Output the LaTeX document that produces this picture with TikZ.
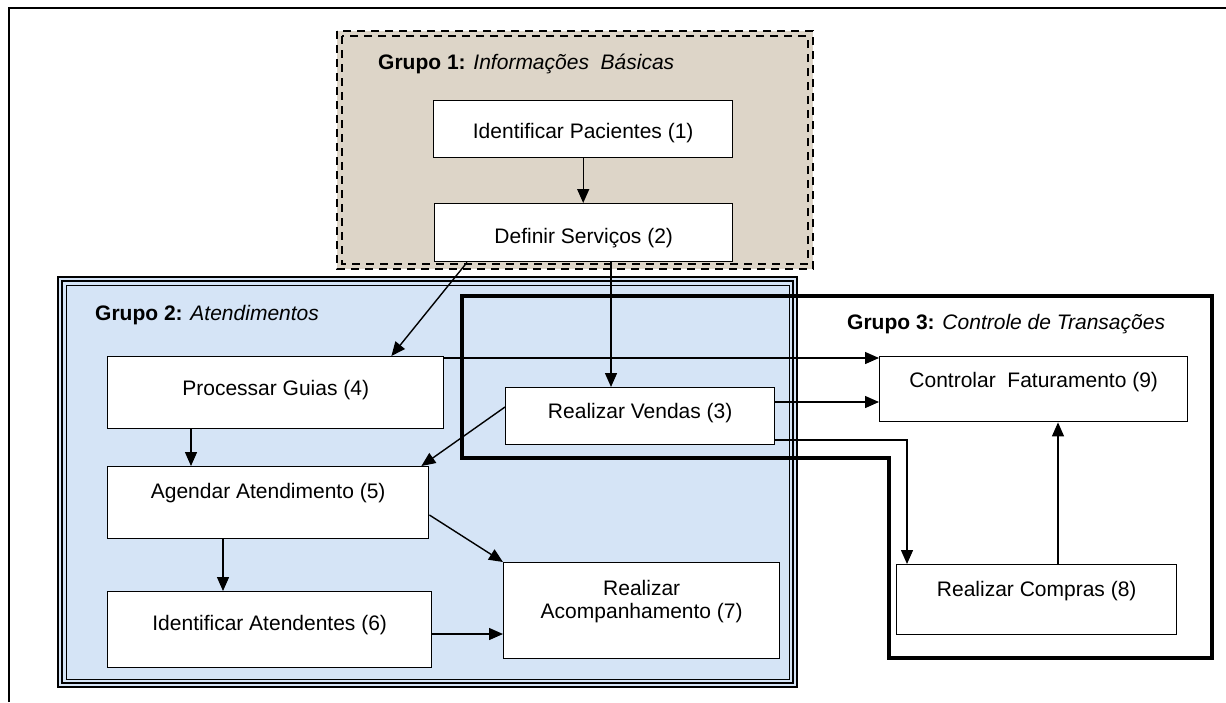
\documentclass[tikz,border=0pt]{standalone}
\usepackage{fontspec}
\setmainfont{Liberation Sans}
\usetikzlibrary{arrows.meta}
\definecolor{sandfill}{RGB}{221,213,200}
\definecolor{skyfill}{RGB}{213,228,246}

\begin{document}
\begin{tikzpicture}[x=1pt, y=-1pt, every node/.style={font=\fontsize{21pt}{23pt}\selectfont}, >={Triangle[length=14pt,width=12pt]},
    proc/.style={draw, fill=white, line width=1.4pt, inner sep=0pt, anchor=north west},
    flow/.style={->, line width=1.4pt},
    gtitle/.style={anchor=base west, inner sep=0pt}]
	\useasboundingbox (0,0) rectangle (1226,702);
	\draw[line width=1.4pt] (9,702) -- (9,8) -- (1226,8);
	\fill[sandfill] (337,31) rectangle (813,269);
	\draw[line width=1.6pt, dash pattern=on 8pt off 6pt] (337,31) rectangle (813,269);
	\draw[line width=1.6pt, dash pattern=on 8pt off 6pt] (342,36) rectangle (808,264);
	\fill[skyfill] (58,277) rectangle (797,687);
	\draw[line width=1.2pt] (58,277) rectangle (797,687);
	\draw[line width=2.6pt] (62,281) rectangle (793,683);
	\draw[line width=1pt] (66,285) rectangle (789,679);
	\draw[line width=4.5pt] (462,296) -- (1212,296) -- (1212,658) -- (889,658) -- (889,458) -- (462,458) -- cycle;
	\node[gtitle] (g1) at (378,69.5) {\textbf{Grupo 1:} \textit{Informações\ \ Básicas}};
	\node[gtitle] (g2) at (95,320.5) {\textbf{Grupo 2:} \textit{Atendimentos}};
	\node[gtitle] (g3) at (847,329.5) {\textbf{Grupo 3:} \textit{Controle de Transações}};
	\node[proc, minimum width=299pt, text height=37.5pt, text depth=19.5pt] (pac) at (433,100) {Identificar Pacientes (1)};
	\node[proc, minimum width=298pt, text height=39.5pt, text depth=18.5pt] (serv) at (434,203) {Definir Serviços (2)};
	\node[proc, minimum width=336pt, text height=38.5pt, text depth=33.5pt] (guias) at (107,356) {Processar Guias (4)};
	\node[proc, minimum width=321pt, text height=31.5pt, text depth=40.5pt] (agenda) at (107,466) {Agendar Atendimento (5)};
	\node[proc, minimum width=324pt, text height=38.5pt, text depth=37.5pt] (atend) at (107,591) {Identificar Atendentes (6)};
	\node[proc, minimum width=276pt, text height=55.7pt, text depth=40.3pt, align=center] (acomp) at (503,562) {Realizar\\Acompanhamento (7)};
	\node[proc, minimum width=269pt, text height=30.5pt, text depth=26.5pt] (vendas) at (505,387) {Realizar Vendas (3)};
	\node[proc, minimum width=308pt, text height=30.5pt, text depth=34.5pt] (fatur) at (879,356) {Controlar\ \ Faturamento (9)};
	\node[proc, minimum width=280pt, text height=31.5pt, text depth=38.5pt] (compras) at (896,564) {Realizar Compras (8)};
	\draw[flow] (pac.south) -- (pac.south |- serv.north);
	\draw[flow] ([xshift=33pt]serv.south west) -- ([xshift=-53pt]guias.north east);
	\draw[flow] ([xshift=177pt]serv.south west) -- ([xshift=177pt]serv.south west |- vendas.north);
	\draw[flow] ([yshift=-2pt]guias.north east) -- ([yshift=-2pt]guias.north east -| fatur.west);
	\draw[flow] ([yshift=-15pt]vendas.north east) -- ([yshift=-15pt]vendas.north east -| fatur.west);
	\draw[flow] ([yshift=-53pt]vendas.north east) -| ([xshift=11pt]compras.north west);
	\draw[flow] ([xshift=162pt]compras.north west) -- ([xshift=162pt]compras.north west |- fatur.south);
	\draw[flow] ([yshift=-20pt]vendas.north west) -- ([xshift=-8pt]agenda.north east);
	\draw[flow] ([xshift=84pt]guias.south west) -- ([xshift=84pt]guias.south west |- agenda.north);
	\draw[flow] ([xshift=116pt]agenda.south west) -- ([xshift=116pt]agenda.south west |- atend.north);
	\draw[flow] ([yshift=-49pt]agenda.north east) -- (acomp.north west);
	\draw[flow] ([yshift=-43pt]atend.north east) -- ([yshift=-43pt]atend.north east -| acomp.west);
\end{tikzpicture}
\end{document}
